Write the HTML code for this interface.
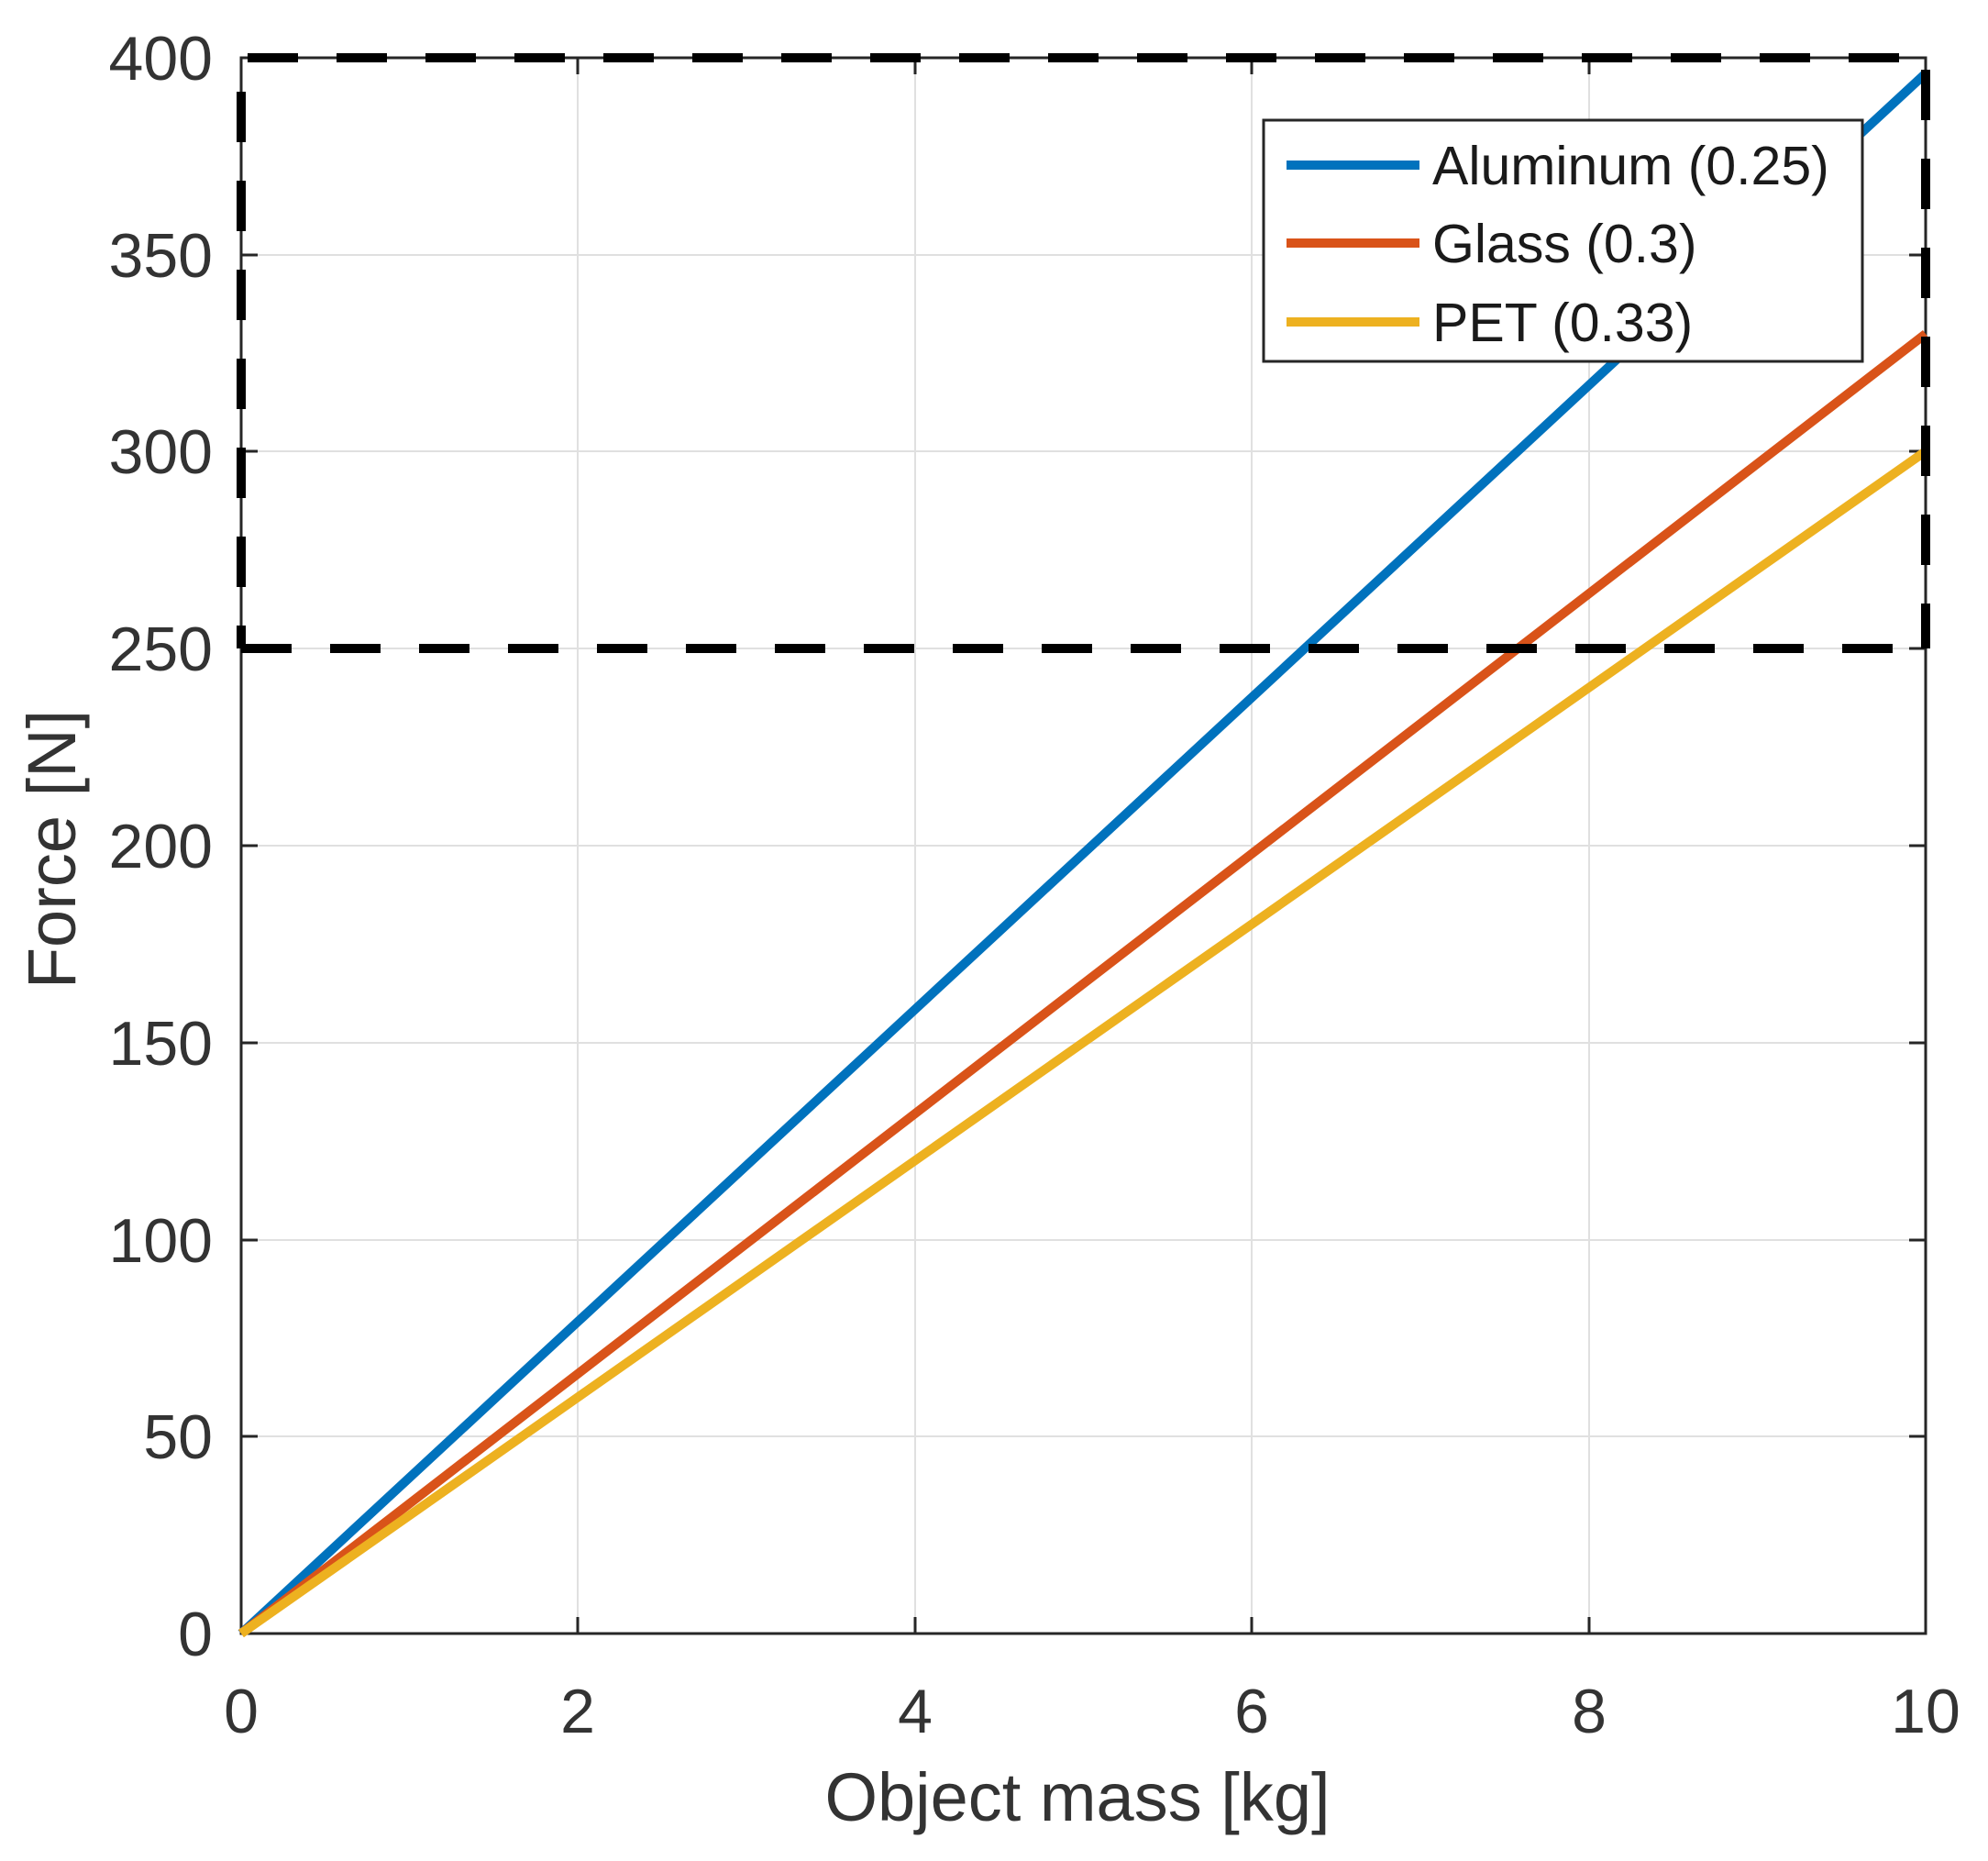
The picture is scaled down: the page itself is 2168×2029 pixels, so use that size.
<!DOCTYPE html>
<html><head><meta charset="utf-8"><style>html,body{margin:0;padding:0;background:#fff}</style></head>
<body>
<svg width="2168" height="2024" xmlns="http://www.w3.org/2000/svg" font-family="Liberation Sans, Arial, sans-serif">
<rect width="2168" height="2024" fill="#fff"/>
<g stroke="#e0e0e0" stroke-width="2">
<line x1="630" y1="63" x2="630" y2="1781"/><line x1="998" y1="63" x2="998" y2="1781"/><line x1="1365" y1="63" x2="1365" y2="1781"/><line x1="1733" y1="63" x2="1733" y2="1781"/>
<line x1="263" y1="278" x2="2100" y2="278"/><line x1="263" y1="492" x2="2100" y2="492"/><line x1="263" y1="707" x2="2100" y2="707"/><line x1="263" y1="922" x2="2100" y2="922"/><line x1="263" y1="1137" x2="2100" y2="1137"/><line x1="263" y1="1352" x2="2100" y2="1352"/><line x1="263" y1="1566" x2="2100" y2="1566"/>
</g>
<g stroke="#262626" stroke-width="3" fill="none">
<rect x="263" y="63" width="1837" height="1718"/>
<path d="M630 1781v-18M998 1781v-18M1365 1781v-18M1733 1781v-18M630 63v18M998 63v18M1365 63v18M1733 63v18"/>
<path d="M263 278h18M263 492h18M263 707h18M263 922h18M263 1137h18M263 1352h18M263 1566h18M2100 278h-18M2100 492h-18M2100 707h-18M2100 922h-18M2100 1137h-18M2100 1352h-18M2100 1566h-18"/>
</g>
<g stroke-width="10" fill="none" stroke-linecap="butt">
<line x1="263" y1="1781" x2="2100" y2="80" stroke="#0072BD"/>
<line x1="263" y1="1781" x2="2100" y2="364" stroke="#D95319"/>
<line x1="263" y1="1781" x2="2100" y2="492" stroke="#EDB120"/>
</g>
<g stroke="#000" stroke-width="10" fill="none" stroke-dasharray="55 42">
<path d="M270 63H2100"/><path d="M2100 76V707"/><path d="M263 100V707"/><path d="M263 707H2100"/>
</g>
<rect x="1378" y="131" width="653" height="263" fill="#fff" stroke="#262626" stroke-width="3"/>
<g stroke-width="10">
<line x1="1403" y1="180" x2="1548" y2="180" stroke="#0072BD"/>
<line x1="1403" y1="265" x2="1548" y2="265" stroke="#D95319"/>
<line x1="1403" y1="351" x2="1548" y2="351" stroke="#EDB120"/>
</g>
<g font-size="59" fill="#1a1a1a">
<text x="1562" y="201">Aluminum (0.25)</text>
<text x="1562" y="286">Glass (0.3)</text>
<text x="1562" y="372">PET (0.33)</text>
</g>
<g font-size="68" fill="#333" text-anchor="end">
<text x="232" y="87">400</text><text x="232" y="302">350</text><text x="232" y="516">300</text><text x="232" y="731">250</text><text x="232" y="946">200</text><text x="232" y="1161">150</text><text x="232" y="1376">100</text><text x="232" y="1590">50</text><text x="232" y="1805">0</text>
</g>
<g font-size="68" fill="#333" text-anchor="middle">
<text x="263" y="1889">0</text><text x="630" y="1889">2</text><text x="998" y="1889">4</text><text x="1365" y="1889">6</text><text x="1733" y="1889">8</text><text x="2100" y="1889">10</text>
<text x="1175" y="1985" font-size="74">Object mass [kg]</text>
<text transform="translate(82,926) rotate(-90)" font-size="74">Force [N]</text>
</g>
</svg>
</body></html>
